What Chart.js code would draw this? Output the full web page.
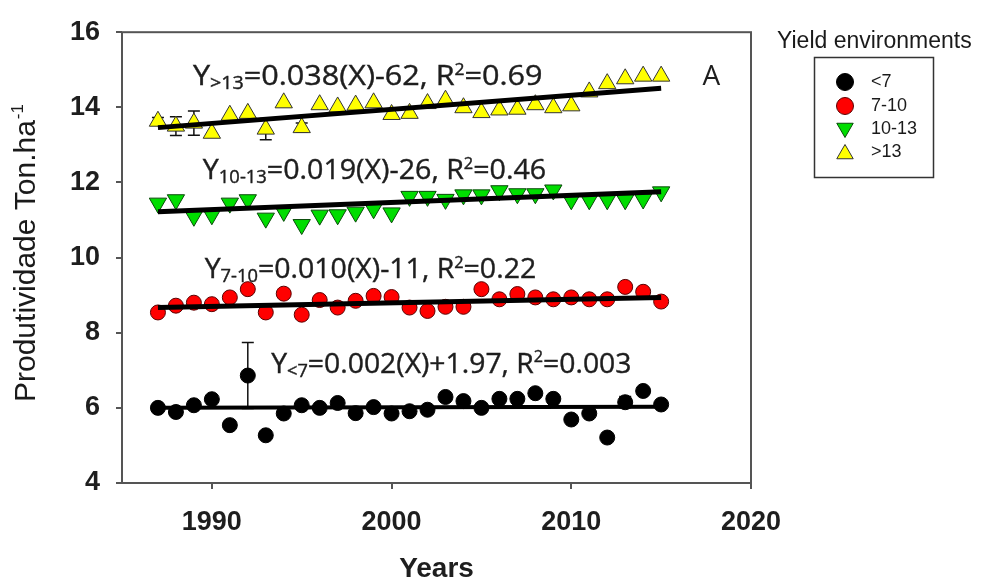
<!DOCTYPE html>
<html>
<head>
<meta charset="utf-8">
<title>Yield environments</title>
<script src="https://cdn.jsdelivr.net/npm/chart.js@4.4.1/dist/chart.umd.min.js"></script>
<style>
  html, body { margin: 0; padding: 0; background: #fff; }
  #chartBox { width: 984px; height: 586px; position: relative; }
</style>
</head>
<body>
<div id="chartBox"><canvas id="yieldChart"></canvas></div>
<script>
const years = [1987, 1988, 1989, 1990, 1991, 1992, 1993, 1994, 1995, 1996,
               1997, 1998, 1999, 2000, 2001, 2002, 2003, 2004, 2005, 2006,
               2007, 2008, 2009, 2010, 2011, 2012, 2013, 2014, 2015];

const yieldBelow7 = [6.00, 5.89, 6.07, 6.23, 5.54, 6.86, 5.27, 5.85, 6.07, 6.00,
                     6.13, 5.86, 6.02, 5.85, 5.91, 5.95, 6.29, 6.18, 6.00, 6.24,
                     6.24, 6.39, 6.24, 5.69, 5.85, 5.21, 6.15, 6.45, 6.09];
const yield7to10 = [8.54, 8.72, 8.80, 8.76, 8.94, 9.16, 8.54, 9.04, 8.48, 8.87,
                    8.67, 8.85, 8.98, 8.95, 8.67, 8.58, 8.69, 8.69, 9.16, 8.89,
                    9.03, 8.94, 8.89, 8.94, 8.89, 8.89, 9.22, 9.09, 8.83];
const yield10to13 = [11.45, 11.54, 11.10, 11.14, 11.45, 11.54, 11.05, 11.23, 10.88, 11.13,
                     11.14, 11.21, 11.30, 11.19, 11.63, 11.63, 11.55, 11.67, 11.67, 11.78,
                     11.70, 11.70, 11.80, 11.54, 11.54, 11.54, 11.54, 11.56, 11.75];
const yieldAbove13 = [13.63, 13.50, 13.58, 13.31, 13.79, 13.84, 13.42, 14.12, 13.46, 14.07,
                      14.01, 14.06, 14.12, 13.81, 13.84, 14.10, 14.19, 13.99, 13.86, 13.93,
                      13.95, 14.07, 13.99, 14.04, 14.41, 14.63, 14.76, 14.83, 14.83];

// standard errors (0 = bar hidden behind the marker)
const errBelow7 = [0, 0, 0, 0, 0, 0.88, 0, 0, 0, 0,
                   0, 0, 0, 0, 0, 0, 0, 0, 0, 0,
                   0, 0, 0, 0, 0, 0, 0.15, 0, 0];
const errAbove13 = [0.10, 0.25, 0.32, 0, 0, 0, 0.28, 0, 0.12, 0,
                    0, 0, 0, 0, 0, 0, 0, 0, 0, 0,
                    0, 0, 0, 0, 0, 0, 0, 0, 0];

// fitted lines, value at first and last year
const trendYears = [1987, 2015];
const trendBelow7 = [6.00, 6.03];
const trend7to10 = [8.67, 8.94];
const trend10to13 = [11.22, 11.75];
const trendAbove13 = [13.46, 14.51];

const seriesNames = ['<7', '7-10', '10-13', '>13'];
const xTicks = [1990, 2000, 2010, 2020];
const yTicks = [4, 6, 8, 10, 12, 14, 16];

const equations = [
  { sub: '>13', body: '=0.038(X)-62, R', r2: '=0.69' },
  { sub: '10-13', body: '=0.019(X)-26, R', r2: '=0.46' },
  { sub: '7-10', body: '=0.010(X)-11, R', r2: '=0.22' },
  { sub: '<7', body: '=0.002(X)+1.97, R', r2: '=0.003' }
];

Chart.defaults.font.family = '"Liberation Sans", Arial, sans-serif';

function pairs(xs, ys) {
  return xs.map((x, i) => ({ x: x, y: ys[i] }));
}

function trendSet(values, width) {
  return {
    data: pairs(trendYears, values),
    showLine: true,
    borderColor: '#000',
    borderWidth: width,
    pointRadius: 0,
    isTrend: true
  };
}

const datasets = [
  trendSet(trendAbove13, 5),
  trendSet(trend10to13, 5),
  trendSet(trend7to10, 5),
  trendSet(trendBelow7, 4),
  {
    label: seriesNames[0], data: pairs(years, yieldBelow7), errorBars: errBelow7,
    pointStyle: 'circle', pointRadius: 7.5, pointRotation: 0,
    backgroundColor: '#000', borderColor: '#000', borderWidth: 1
  },
  {
    label: seriesNames[1], data: pairs(years, yield7to10),
    pointStyle: 'circle', pointRadius: 7.5, pointRotation: 0,
    backgroundColor: '#ff0000', borderColor: '#5a0000', borderWidth: 1
  },
  {
    label: seriesNames[2], data: pairs(years, yield10to13),
    pointStyle: 'triangle', pointRadius: 10, pointRotation: 180,
    backgroundColor: '#00dd00', borderColor: '#0a4a0a', borderWidth: 1
  },
  {
    label: seriesNames[3], data: pairs(years, yieldAbove13), errorBars: errAbove13,
    pointStyle: 'triangle', pointRadius: 10, pointRotation: 0,
    backgroundColor: '#ffff00', borderColor: '#333', borderWidth: 1
  }
];

// frame + error bars behind the markers
const backdropPlugin = {
  id: 'backdrop',
  beforeDatasetsDraw(chart) {
    const { ctx, chartArea: a, scales: { x, y } } = chart;
    ctx.save();
    ctx.strokeStyle = '#555';
    ctx.lineWidth = 2;
    ctx.strokeRect(a.left, a.top, a.right - a.left, a.bottom - a.top);

    ctx.strokeStyle = '#111';
    ctx.lineWidth = 1.5;
    chart.data.datasets.forEach(ds => {
      if (!ds.errorBars) return;
      ds.data.forEach((pt, i) => {
        const e = ds.errorBars[i];
        if (!e) return;
        const px = x.getPixelForValue(pt.x);
        const top = y.getPixelForValue(pt.y + e);
        const bot = y.getPixelForValue(pt.y - e);
        ctx.beginPath();
        ctx.moveTo(px, top); ctx.lineTo(px, bot);
        ctx.moveTo(px - 6, top); ctx.lineTo(px + 6, top);
        ctx.moveTo(px - 6, bot); ctx.lineTo(px + 6, bot);
        ctx.stroke();
      });
    });
    ctx.restore();
  }
};

function drawEquation(ctx, eq, left, right, baseline) {
  const size = 28;
  const fam = '"Open Sans", sans-serif';
  const parts = [
    { t: 'Y', s: 1, dy: 0 },
    { t: eq.sub, s: 0.64, dy: 0.16 },
    { t: eq.body, s: 1, dy: 0 },
    { t: '2', s: 0.58, dy: -0.36 },
    { t: eq.r2, s: 1, dy: 0 }
  ];
  let total = 0;
  parts.forEach(p => {
    ctx.font = `${Math.round(size * p.s)}px ${fam}`;
    p.w = ctx.measureText(p.t).width;
    total += p.w;
  });
  ctx.save();
  ctx.translate(left, baseline);
  ctx.scale((right - left) / total, 1);
  ctx.fillStyle = '#1e1e1e';
  ctx.strokeStyle = '#1e1e1e';
  ctx.lineWidth = 0.4;
  ctx.textBaseline = 'alphabetic';
  let cx = 0;
  parts.forEach(p => {
    ctx.font = `${Math.round(size * p.s)}px ${fam}`;
    ctx.fillText(p.t, cx, p.dy * size);
    ctx.strokeText(p.t, cx, p.dy * size);
    cx += p.w;
  });
  ctx.restore();
}

const overlayPlugin = {
  id: 'overlay',
  afterDraw(chart) {
    const { ctx, scales: { x, y } } = chart;
    const spots = [
      [1988.95, 2008.4, 14.6],
      [1989.5, 2008.6, 12.1],
      [1989.6, 2008.05, 9.46],
      [1993.3, 2013.35, 6.94]
    ];
    equations.forEach((eq, i) => {
      const s = spots[i];
      drawEquation(ctx, eq, x.getPixelForValue(s[0]), x.getPixelForValue(s[1]), y.getPixelForValue(s[2]));
    });

    ctx.save();
    ctx.fillStyle = '#1e1e1e';
    ctx.font = '28px "Open Sans", sans-serif';
    ctx.textBaseline = 'alphabetic';
    ctx.fillText('A', x.getPixelForValue(2017.3), y.getPixelForValue(14.6));

    // y axis title with superscript
    ctx.translate(35, 402);
    ctx.rotate(-Math.PI / 2);
    ctx.fillStyle = '#1a1a1a';
    ctx.font = '30px "Liberation Sans", Arial, sans-serif';
    const main = 'Produtividade Ton.ha';
    ctx.fillText(main, 0, 0);
    const w = ctx.measureText(main).width;
    ctx.font = '17px "Liberation Sans", Arial, sans-serif';
    ctx.fillText('-1', w + 1, -12);
    ctx.restore();

    // legend
    ctx.save();
    ctx.fillStyle = '#1a1a1a';
    ctx.font = '23px "Liberation Sans", Arial, sans-serif';
    ctx.textBaseline = 'alphabetic';
    ctx.fillText('Yield environments', 777, 48);
    ctx.strokeStyle = '#333';
    ctx.lineWidth = 1.5;
    ctx.strokeRect(814.5, 57.5, 119, 120);
    const rows = [82, 106, 129, 152];
    chart.data.datasets.filter(d => !d.isTrend).forEach((ds, i) => {
      ctx.fillStyle = ds.backgroundColor;
      ctx.strokeStyle = ds.borderColor;
      ctx.lineWidth = 1;
      const isTri = ds.pointStyle === 'triangle';
      Chart.helpers.drawPoint(ctx, {
        pointStyle: ds.pointStyle,
        rotation: ds.pointRotation,
        radius: isTri ? 9.5 : 8.5,
        borderWidth: 1
      }, 845, rows[i] + (isTri ? (ds.pointRotation ? -1 : 2) : 0));
      ctx.fillStyle = '#1a1a1a';
      ctx.font = '18px "Liberation Sans", Arial, sans-serif';
      ctx.textBaseline = 'middle';
      ctx.fillText(ds.label, 871, rows[i]);
    });
    ctx.restore();
  }
};

const canvas = document.getElementById('yieldChart');
new Chart(canvas.getContext('2d'), {
  type: 'scatter',
  data: { datasets: datasets },
  options: {
    responsive: true,
    maintainAspectRatio: false,
    animation: false,
    layout: { padding: { top: 28, right: 233, left: 0, bottom: 0 } },
    plugins: {
      legend: { display: false },
      tooltip: { enabled: false }
    },
    scales: {
      x: {
        type: 'linear',
        min: 1985,
        max: 2020,
        afterBuildTicks: s => { s.ticks = xTicks.map(v => ({ value: v })); },
        afterFit: s => { s.height = 103; },
        grid: { drawOnChartArea: false, drawTicks: true, tickLength: 6, color: '#555', lineWidth: 2 },
        border: { display: false },
        ticks: {
          font: { size: 27, weight: 'bold' },
          color: '#1e1e1e',
          padding: 17,
          maxRotation: 0,
          autoSkip: false,
          callback: v => String(v)
        },
        title: {
          display: true,
          text: 'Years',
          font: { size: 28, weight: 'bold' },
          color: '#1e1e1e',
          padding: { top: 0, bottom: 0 }
        }
      },
      y: {
        type: 'linear',
        min: 4,
        max: 16,
        afterBuildTicks: s => { s.ticks = yTicks.map(v => ({ value: v })); },
        afterFit: s => { s.width = 122; },
        grid: { drawOnChartArea: false, drawTicks: true, tickLength: 6, color: '#555', lineWidth: 2 },
        border: { display: false },
        ticks: {
          font: { size: 27, weight: 'bold' },
          color: '#1e1e1e',
          padding: 16,
          callback: v => String(v)
        }
      }
    }
  },
  plugins: [backdropPlugin, overlayPlugin]
});
</script>
</body>
</html>
